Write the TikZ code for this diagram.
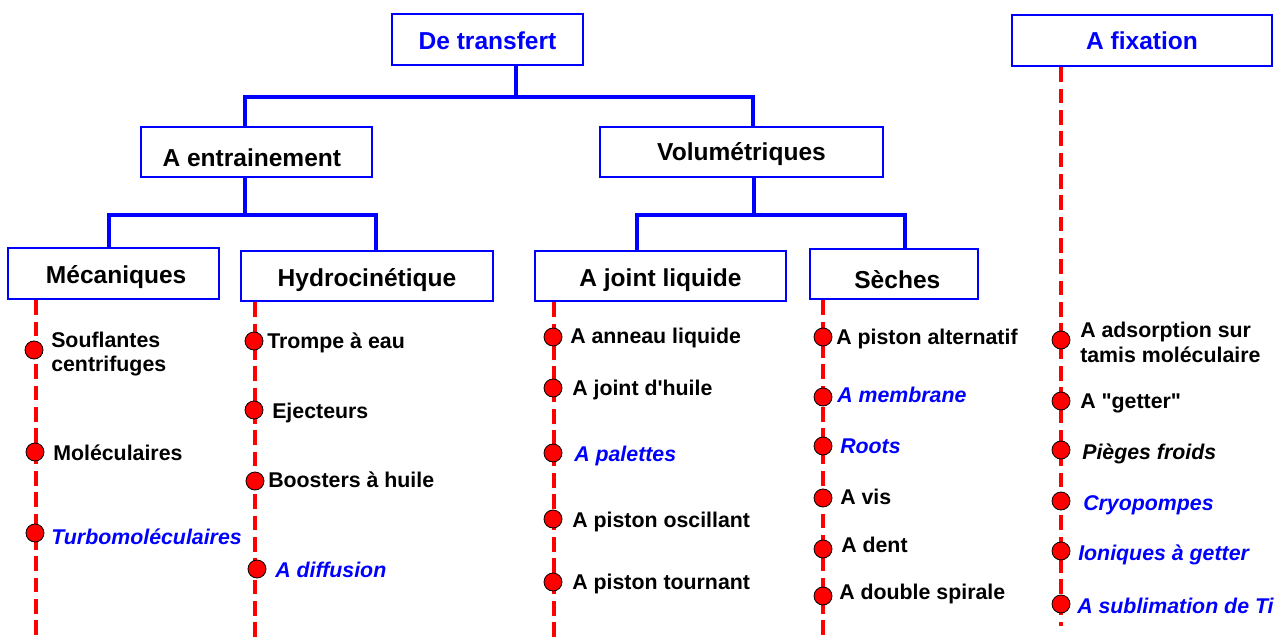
\documentclass[tikz,border=0pt]{standalone}
\usepackage{fontspec}
\setmainfont{Liberation Sans}[Ligatures=TeXOff]
\usetikzlibrary{calc}
\definecolor{pblue}{RGB}{0,0,255}
\definecolor{pred}{RGB}{255,0,0}
\newcommand\mybox[7][]{\node[box, minimum width={(#5-#3)*0.75pt}, minimum height={(#6-#4)*0.75pt}] (#2) at ({(#3+#5)/2},{(#4+#6)/2}) {};
  \node[boxtext, #1] (#2t) at (#2.center) {#7};}
\begin{document}
\begin{tikzpicture}[x=0.75pt,y=-0.75pt,
 box/.style={draw=pblue, line width=2pt, rectangle, inner sep=0pt},
 boxtext/.style={inner sep=0pt, text height=13.2pt, text depth=0pt, font=\fontsize{18.4}{22}\selectfont\bfseries},
 conn/.style={draw=pblue, line width=3pt},
 dline/.style={draw=pred, line width=2.3pt, dash pattern=on 11pt off 5pt},
 dot/.style={circle, fill=pred, draw=black, line width=0.6pt, minimum size=13.5pt, inner sep=0pt},
 item/.style={anchor=base west, inner sep=0pt, font=\fontsize{16}{18}\selectfont\bfseries},
 itb/.style={item, text=pblue, font=\fontsize{16}{18}\selectfont\bfseries\itshape},
 iti/.style={item, font=\fontsize{16}{18}\selectfont\bfseries\itshape}]
\useasboundingbox (0,0) rectangle (1285,638);

% boxes
\mybox[text=pblue, yshift=-1pt]{top}{392}{14}{583}{65}{De transfert}
\mybox[text=pblue]{fix}{1012}{15}{1272}{66}{A fixation}
\mybox[yshift=-4.5pt, xshift=-3.5pt]{ent}{141}{127}{372}{177}{A entrainement}
\mybox{vol}{600}{127}{883}{177}{Volumétriques}
\mybox[yshift=-1pt, xshift=2pt]{mec}{8}{248}{219}{299}{Mécaniques}
\mybox[yshift=-1pt]{hyd}{241}{251}{493}{301}{Hydrocinétique}
\mybox[yshift=-1pt]{jl}{535}{251}{786}{301}{A joint liquide}
\mybox[yshift=-4pt, xshift=2.5pt]{sec}{810}{249}{978}{299}{Sèches}

% tree connectors
\coordinate (b0) at (516,97);
\coordinate (b1) at (245,215);
\coordinate (b2) at (754,215);
\draw[conn] (top.south -| b0) -- (b0);
\draw[conn] ($(ent.north)+(-11.5,0)$) |- (b0);
\draw[conn] ($(vol.north)+(11.5,0)$) |- (b0);
\draw[conn] (ent.south -| b1) -- (b1);
\draw[conn] ($(mec.north)+(-4.5,0)$) |- (b1);
\draw[conn] ($(hyd.north)+(9,0)$) |- (b1);
\draw[conn] (vol.south -| b2) -- (b2);
\draw[conn] ($(jl.north)+(-23.5,0)$) |- (b2);
\draw[conn] ($(sec.north)+(11,0)$) |- (b2);

% dashed lines
\coordinate (e1) at (36,638);
\coordinate (e2) at (255,638);
\coordinate (e3) at (554,638);
\coordinate (e4) at (823,638);
\coordinate (e5) at (1061,626);
\draw[dline] (mec.south -| e1) -- (e1);
\draw[dline] (hyd.south -| e2) -- (e2);
\draw[dline] (jl.south -| e3) -- (e3);
\draw[dline] (sec.south -| e4) -- (e4);
\draw[dline] (fix.south -| e5) -- (e5);

% Mecaniques
\node[dot] (m1) at (34,350) {};
\node[dot] (m2) at (35,452) {};
\node[dot] (m3) at (35,533) {};
\node[item] (tm1a) at (51,347) {Souflantes};
\node[item] (tm1b) at (51,371) {centrifuges};
\node[item] (tm2) at (53,460) {Moléculaires};
\node[itb] (tm3) at (51,544) {Turbomoléculaires};

% Hydrocinetique
\node[dot] (h1) at (254,341) {};
\node[dot] (h2) at (254,410) {};
\node[dot] (h3) at (255,481) {};
\node[dot] (h4) at (257,569) {};
\node[item] (th1) at (267,348) {Trompe à eau};
\node[item] (th2) at (272,418) {Ejecteurs};
\node[item] (th3) at (268,487) {Boosters à huile};
\node[itb] (th4) at (275,577) {A diffusion};

% A joint liquide
\node[dot] (j1) at (553,337) {};
\node[dot] (j2) at (553,388) {};
\node[dot] (j3) at (553,453) {};
\node[dot] (j4) at (553,519) {};
\node[dot] (j5) at (553,582) {};
\node[item] (tj1) at (570,343) {A anneau liquide};
\node[item] (tj2) at (572,395) {A joint d'huile};
\node[itb] (tj3) at (574,461) {A palettes};
\node[item] (tj4) at (572,527) {A piston oscillant};
\node[item] (tj5) at (572,589) {A piston tournant};

% Seches
\node[dot] (s1) at (823,337) {};
\node[dot] (s2) at (823,397) {};
\node[dot] (s3) at (823,446) {};
\node[dot] (s4) at (823,498) {};
\node[dot] (s5) at (823,549) {};
\node[dot] (s6) at (823,596) {};
\node[item] (ts1) at (836,344) {A piston alternatif};
\node[itb] (ts2) at (837,402) {A membrane};
\node[itb] (ts3) at (840,453) {Roots};
\node[item] (ts4) at (840,504) {A vis};
\node[item] (ts5) at (841,552) {A dent};
\node[item] (ts6) at (839,599) {A double spirale};

% A fixation
\node[dot] (f1) at (1061,340) {};
\node[dot] (f2) at (1061,401) {};
\node[dot] (f3) at (1061,450) {};
\node[dot] (f4) at (1061,501) {};
\node[dot] (f5) at (1061,551) {};
\node[dot] (f6) at (1061,604) {};
\node[item] (tf1a) at (1080,337) {A adsorption sur};
\node[item] (tf1b) at (1080,362) {tamis moléculaire};
\node[item] (tf2) at (1080,408) {A "getter"};
\node[iti] (tf3) at (1082,459) {Pièges froids};
\node[itb] (tf4) at (1083,510) {Cryopompes};
\node[itb] (tf5) at (1078,560) {Ioniques à getter};
\node[itb] (tf6) at (1077,613) {A sublimation de Ti};
\end{tikzpicture}
\end{document}
